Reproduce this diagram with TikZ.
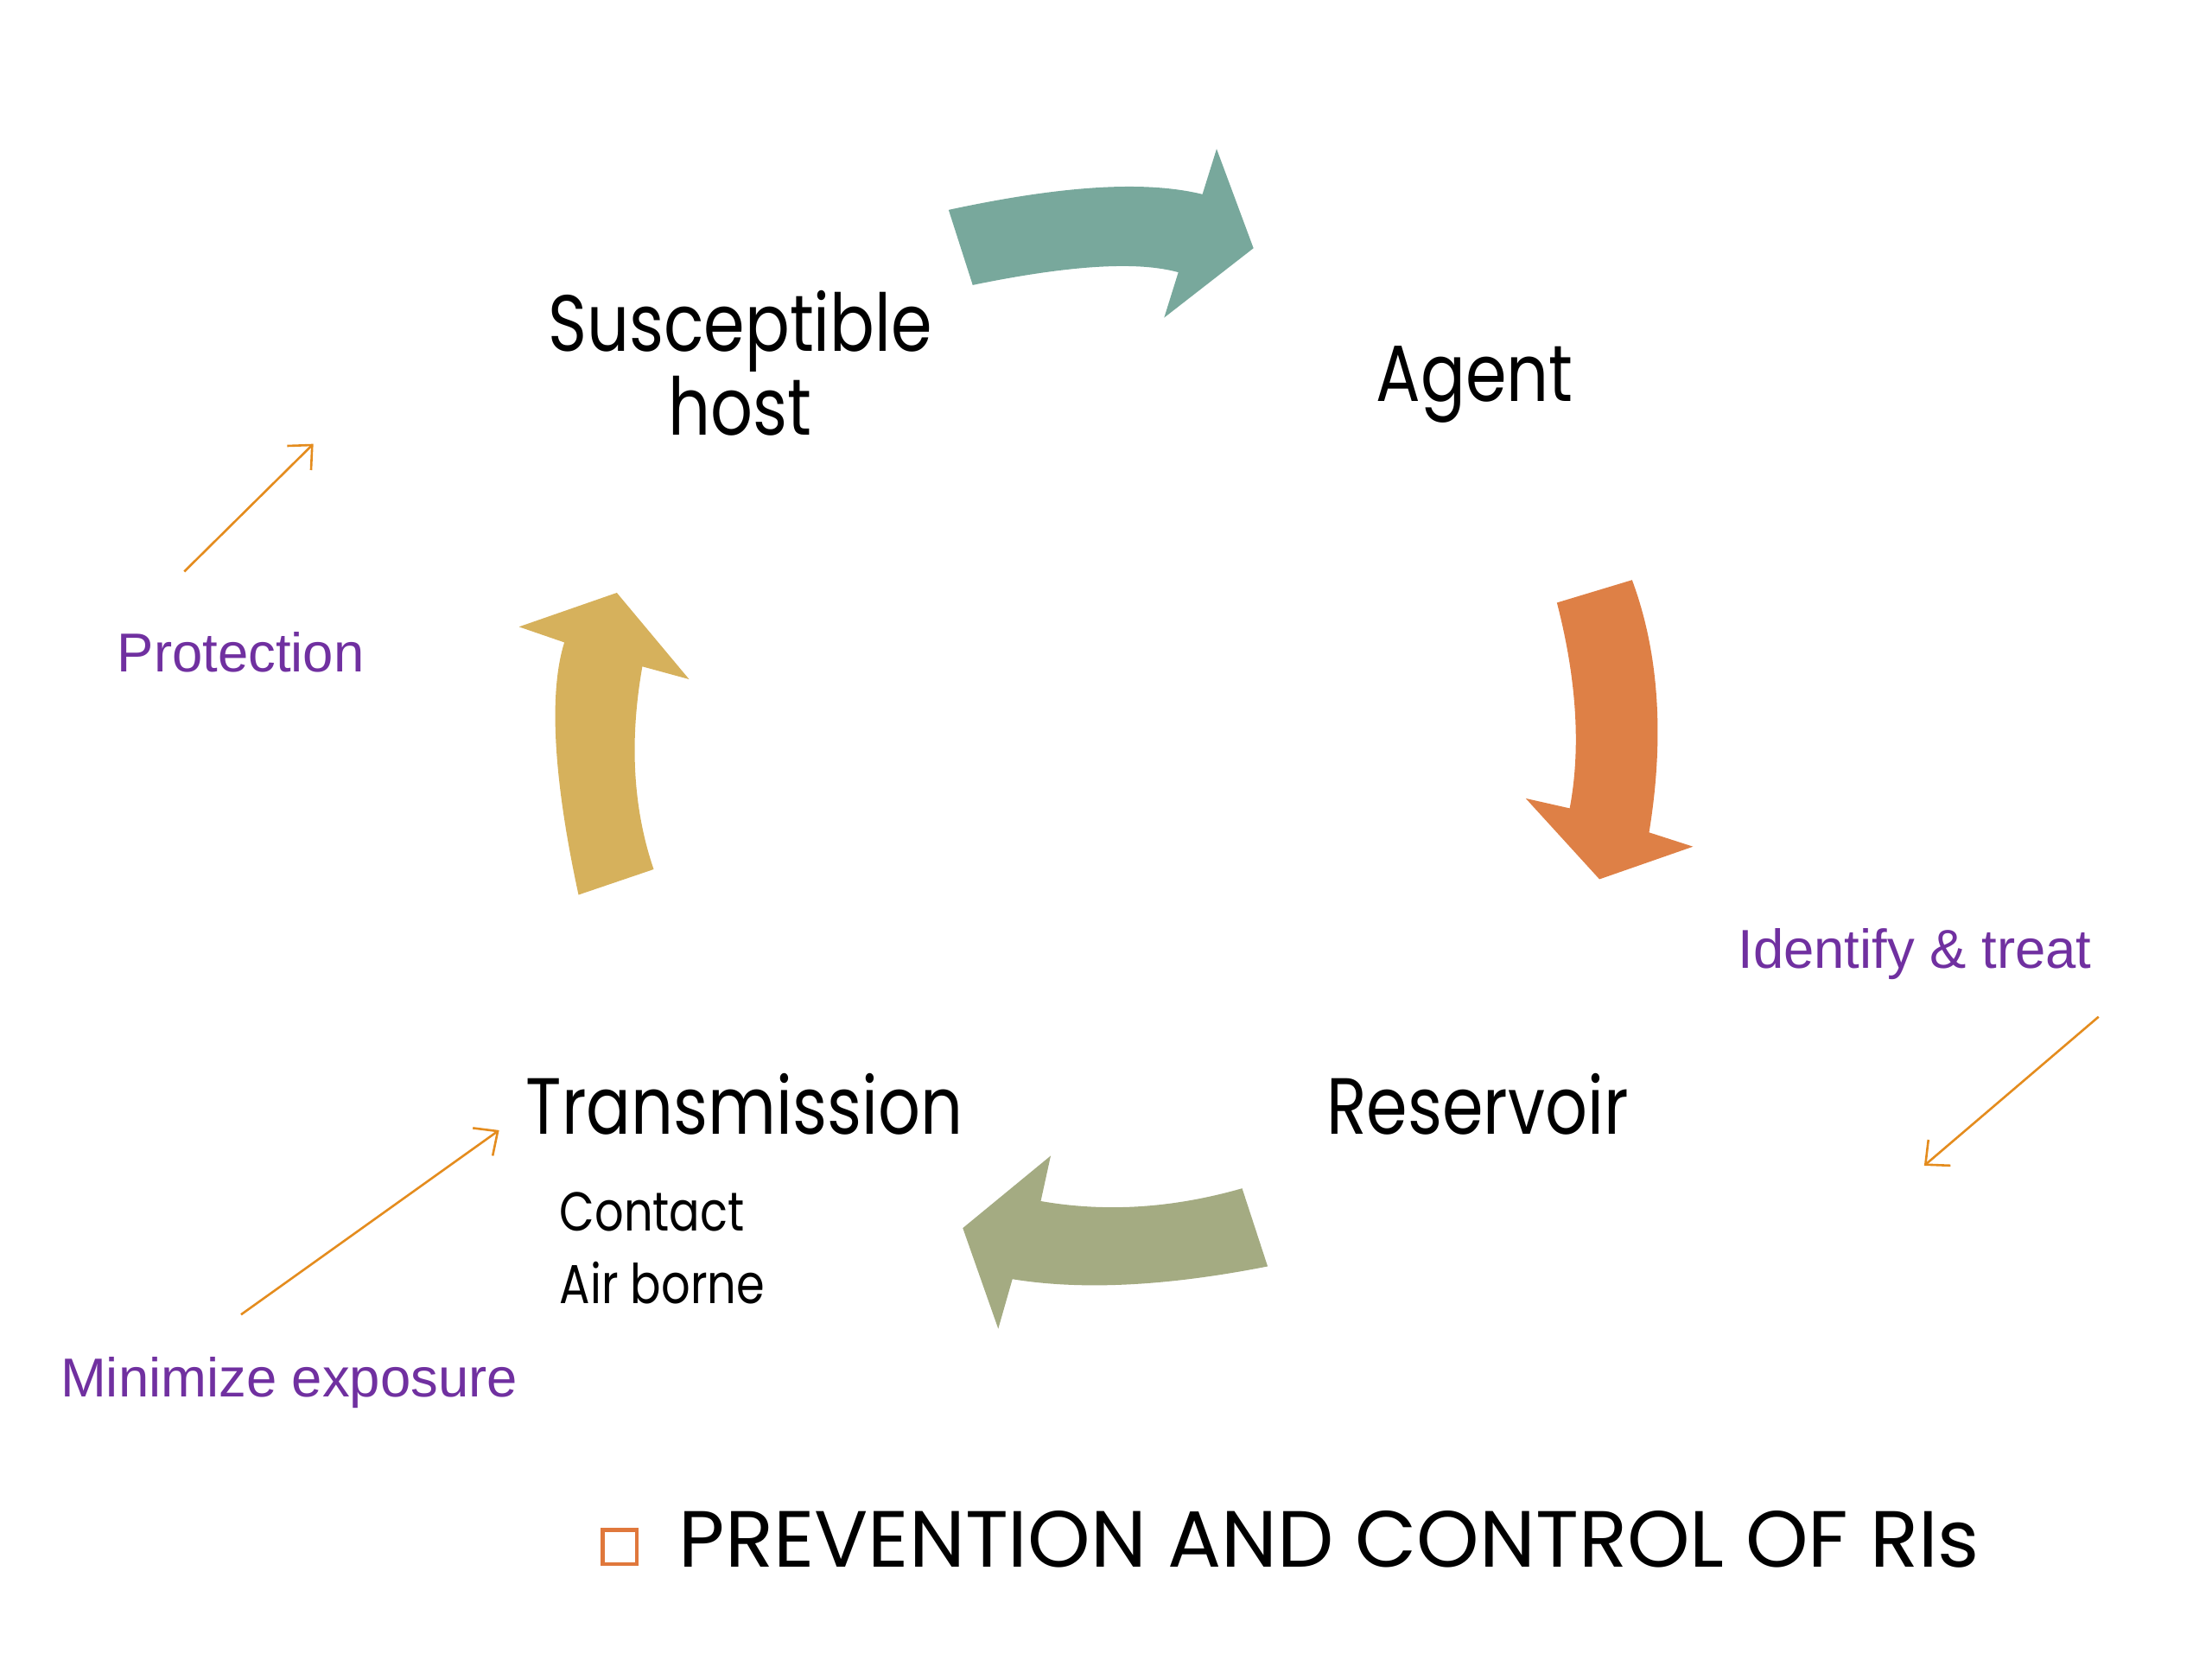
\documentclass[tikz,border=0pt]{standalone}
\usepackage{fontspec}
\setmainfont{Poppins}[FakeStretch=0.83]
\newfontfamily\titlefont{Poppins}
\newfontfamily\notefont{Liberation Sans}
\usetikzlibrary{arrows.meta}
\definecolor{cycteal}{RGB}{120,168,156}
\definecolor{cycorange}{RGB}{222,128,70}
\definecolor{cycyellow}{RGB}{214,177,92}
\definecolor{cycgreen}{RGB}{164,171,130}
\definecolor{notepurple}{RGB}{112,48,160}
\definecolor{hintorange}{RGB}{228,140,30}
\definecolor{bulletorange}{RGB}{224,120,60}

\begin{document}
\begin{tikzpicture}
  [x=0.1mm,y=-0.1mm,every node/.style={inner sep=0pt},
   stage/.style={font=\fontsize{16}{16.8}\selectfont,align=center,anchor=base},
   mode/.style={font=\fontsize{11}{13}\selectfont,anchor=base west},
   note/.style={font=\notefont\fontsize{11}{13}\selectfont,text=notepurple,anchor=base west},
   hint/.style={draw=hintorange,line width=0.45pt,-{Straight Barb[length=1.3mm,width=2.4mm]}}]
  \useasboundingbox (0,0) rectangle (1560,1170);

  % cycle arrows
  \fill[cycteal] (669,148) .. controls (748,131) and (807,127) .. (848,137)
    -- (858,105) -- (884,175) -- (821,224) -- (831,192)
    .. controls (802,184) and (754,187) .. (686,201) -- cycle;
  \fill[cycorange] (1098,425) -- (1151,409)
    .. controls (1170,460) and (1174,520) .. (1163,587)
    -- (1194,597) -- (1128,620) -- (1076,563) -- (1107,570)
    .. controls (1115,528) and (1112,479) .. (1098,425) -- cycle;
  \fill[cycgreen] (679,866) -- (741,815) -- (734,847)
    .. controls (780,855) and (827,852) .. (876,838)
    -- (894,893) .. controls (823,907) and (763,910) .. (714,902)
    -- (704,937) -- cycle;
  \fill[cycyellow] (408,631) -- (461,613)
    .. controls (446,569) and (444,521) .. (453,470)
    -- (486,479) -- (435,418) -- (366,442) -- (398,453)
    .. controls (387,488) and (390,548) .. (408,631) -- cycle;

  \node[stage] (host) at (522,307) {Susceptible\\host};
  \node[stage] (agent) at (1040,283) {Agent};
  \node[stage] (reservoir) at (1042,800) {Reservoir};
  \node[stage] (trans) at (525,800) {Transmission};
  \node[mode] (contact) at (394,868) {Contact};
  \node[mode] (airborne) at (394,919) {Air borne};

  \node[note] (protect) at (82,474) {Protection};
  \node[note] (ident) at (1225,683) {Identify \& treat};
  \node[note] (minimize) at (42,985) {Minimize exposure};

  \coordinate (p1) at (130,403);  \coordinate (p2) at (221,313);
  \coordinate (i1) at (1480,717); \coordinate (i2) at (1357,822);
  \coordinate (m1) at (170,927);  \coordinate (m2) at (352,797);
  \foreach \from/\to in {p1/p2,i1/i2,m1/m2}
    \draw[hint] (\from) -- (\to);

  \node[draw=bulletorange,line width=0.8pt,minimum size=2.4mm] (bullet) at (437,1091) {};
  \node[font=\titlefont\fontsize{16}{18}\selectfont,anchor=base west] (title) at (478,1105)
    {PREVENTION AND CONTROL OF RIs};
\end{tikzpicture}
\end{document}
